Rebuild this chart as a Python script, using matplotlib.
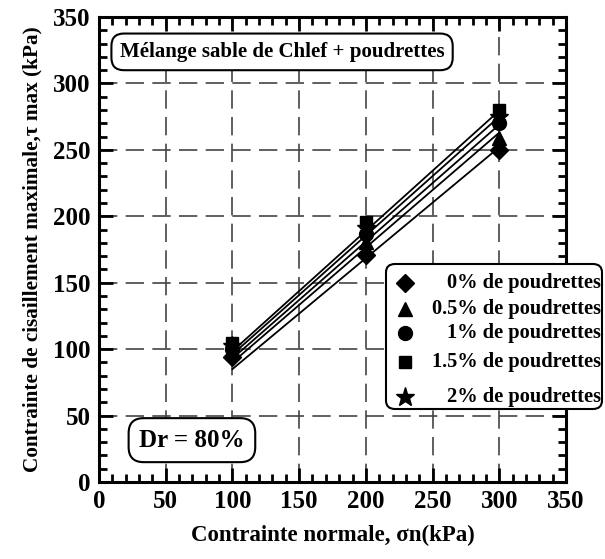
import matplotlib
matplotlib.use("Agg")
import matplotlib.pyplot as plt
from matplotlib.lines import Line2D
from matplotlib.patches import FancyBboxPatch
from matplotlib.ticker import MultipleLocator
import numpy as np

# contrainte normale appliquée (kPa)
sigma_n = [100, 200, 300]

# tau max mesuré pour chaque teneur en poudrettes (kPa)
labels = ["0% de poudrettes", "0.5% de poudrettes", "1% de poudrettes",
          "1.5% de poudrettes", "2% de poudrettes"]
tau_max = [
    [94, 171, 250],
    [98, 181, 259],
    [100, 187, 270],
    [105, 196, 280],
    [102, 191, 275],
]
markers = ["D", "^", "o", "s", "*"]
msizes = [9, 10, 10, 9, 14]

# droites intrinsèques : cohésion (kPa) et pente tan(phi)
cohesion = [1.5, 3.5, 5.0, 8.0, 6.5]
tan_phi = [0.835, 0.865, 0.880, 0.905, 0.895]

plt.rcParams["font.family"] = ["Liberation Serif", "DejaVu Serif"]
plt.rcParams["font.weight"] = "bold"
plt.rcParams["axes.labelweight"] = "bold"

fig = plt.figure(figsize=(6.05, 5.59), dpi=100)
ax = fig.add_axes([99 / 605, 77 / 559, 467 / 605, 465 / 559])

x_fit = np.array([sigma_n[0], sigma_n[-1]])
for c, m in zip(cohesion, tan_phi):
    ax.plot(x_fit, c + m * x_fit, color="black", lw=1.3, zorder=3)

for y, mk, ms in zip(tau_max, markers, msizes):
    ax.plot(sigma_n, y, linestyle="none", marker=mk, ms=ms,
            color="black", zorder=4)

ax.set_xlim(0, 350)
ax.set_ylim(0, 350)
ax.xaxis.set_major_locator(MultipleLocator(50))
ax.yaxis.set_major_locator(MultipleLocator(50))
ax.xaxis.set_minor_locator(MultipleLocator(10))
ax.yaxis.set_minor_locator(MultipleLocator(10))
ax.tick_params(which="both", direction="in", top=True, right=True,
               width=2, labelsize=18)
ax.tick_params(which="major", length=10, pad=6)
ax.tick_params(which="minor", length=6)
for s in ax.spines.values():
    s.set_linewidth(2.2)
ax.grid(True, which="major", color="#444444", lw=1.2,
        linestyle=(0, (11, 5)))
ax.set_axisbelow(True)

ax.set_xlabel("Contrainte normale, σn(kPa)", fontsize=16.5,
              fontweight="bold", labelpad=8)
ax.set_ylabel("Contrainte de cisaillement maximale,τ max (kPa)",
              fontsize=15.3, fontweight="bold", labelpad=8)

ax.text(0.392, 0.925, "Mélange sable de Chlef + poudrettes",
        transform=ax.transAxes, ha="center", va="center",
        fontsize=15, fontweight="bold", zorder=5,
        bbox=dict(boxstyle="round,pad=0.4,rounding_size=0.6",
                  fc="white", ec="black", lw=1.5))
ax.text(0.199, 0.090, "Dr = 80%", transform=ax.transAxes,
        ha="center", va="center", fontsize=18, fontweight="bold",
        bbox=dict(boxstyle="round,pad=0.42,rounding_size=0.6",
                  fc="white", ec="black", lw=1.5), zorder=5)

# légende : symboles à gauche, texte aligné à droite
W, H = 605, 559
leg_box = FancyBboxPatch((386 / W, 1 - 409 / H), 216 / W, 145 / H,
                         boxstyle="round,pad=0,rounding_size=0.015",
                         transform=fig.transFigure, fc="white",
                         ec="black", lw=1.5, zorder=5)
fig.add_artist(leg_box)
row_y = [283, 309, 333, 362, 397]
for lab, mk, ms, py in zip(labels, markers, msizes, row_y):
    fig.add_artist(Line2D([405 / W], [1 - py / H], marker=mk, ms=ms,
                          color="black", linestyle="none",
                          transform=fig.transFigure, zorder=6))
    fig.text(601 / W, 1 - py / H, lab, ha="right", va="center",
             fontsize=14.7, fontweight="bold", zorder=6)

fig.canvas.draw()
for lbl in ax.get_xticklabels() + ax.get_yticklabels():
    lbl.set_fontweight("bold")

fig.savefig("out.png", dpi=100)
